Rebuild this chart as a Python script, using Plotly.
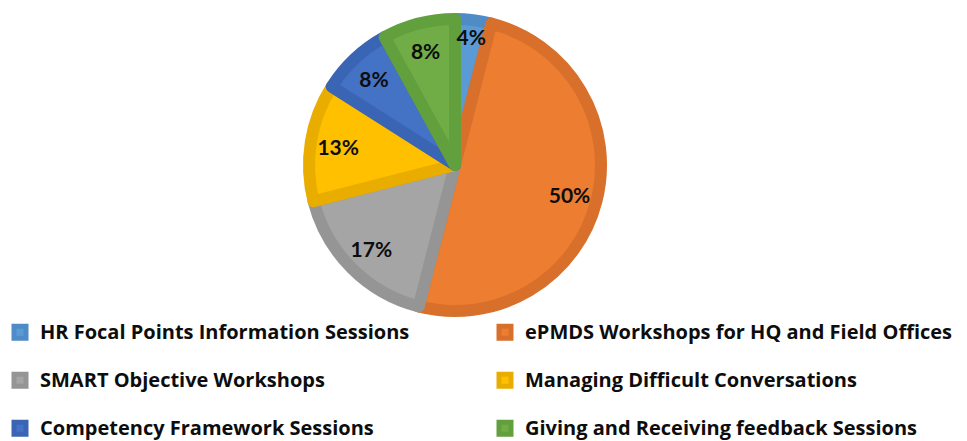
import plotly.graph_objects as go

# Training sessions share by type
labels = [
    "HR Focal Points Information Sessions",
    "ePMDS Workshops for HQ and Field Offices",
    "SMART Objective Workshops",
    "Managing Difficult Conversations",
    "Competency Framework Sessions",
    "Giving and Receiving feedback Sessions",
]
values = [4, 50, 17, 13, 8, 8]

fill_colors = ["#5B9BD5", "#ED7D31", "#A5A5A5", "#FFC000", "#4472C4", "#70AD47"]
edge_colors = ["#4F8CC6", "#D8702B", "#959595", "#E9AD00", "#3A65B4", "#62A03E"]

# blank first line gives each legend row extra height above the label
legend_text = [" <br><span style='font-size:20px'>" + lab + "</span>" for lab in labels]

W, H = 967, 441
cx, cy, r = 455, 165, 146
domain = dict(
    x=[(cx - 200) / W, (cx + 200) / W],
    y=[(H - cy - r) / H, (H - cy + r) / H],
)

fig = go.Figure()

# coloured slices with darker rims
fig.add_trace(
    go.Pie(
        labels=legend_text,
        values=values,
        customdata=labels,
        hovertemplate="%{customdata}: %{percent}<extra></extra>",
        sort=False,
        direction="clockwise",
        rotation=0,
        textinfo="none",
        marker=dict(colors=fill_colors, line=dict(color=edge_colors, width=12)),
        domain=domain,
    )
)

# transparent ring carrying the percentage labels near the rim
fig.add_trace(
    go.Pie(
        labels=legend_text,
        values=values,
        sort=False,
        direction="clockwise",
        rotation=0,
        hole=0.62,
        showlegend=False,
        hoverinfo="skip",
        texttemplate="%{value}%",
        textposition="inside",
        insidetextorientation="horizontal",
        textfont=dict(family="Lato", size=21, color="#0D0D0D", weight="bold"),
        marker=dict(colors=["rgba(0,0,0,0)"] * len(values), line=dict(width=0)),
        domain=domain,
    )
)

fig.update_layout(
    width=W,
    height=H,
    margin=dict(l=0, r=0, t=0, b=0, autoexpand=False),
    paper_bgcolor="white",
    plot_bgcolor="white",
    uniformtext=dict(minsize=21, mode="show"),
    showlegend=True,
    legend=dict(
        orientation="h",
        x=0,
        xanchor="left",
        y=(H - 292) / H,
        yanchor="top",
        entrywidth=440,
        entrywidthmode="pixels",
        valign="bottom",
        maxheight=1,
        font=dict(family="Open Sans", size=45 / 2.6, color="#0D0D0D", weight="bold"),
        bgcolor="rgba(0,0,0,0)",
    ),
)

fig.write_html("out.html")
